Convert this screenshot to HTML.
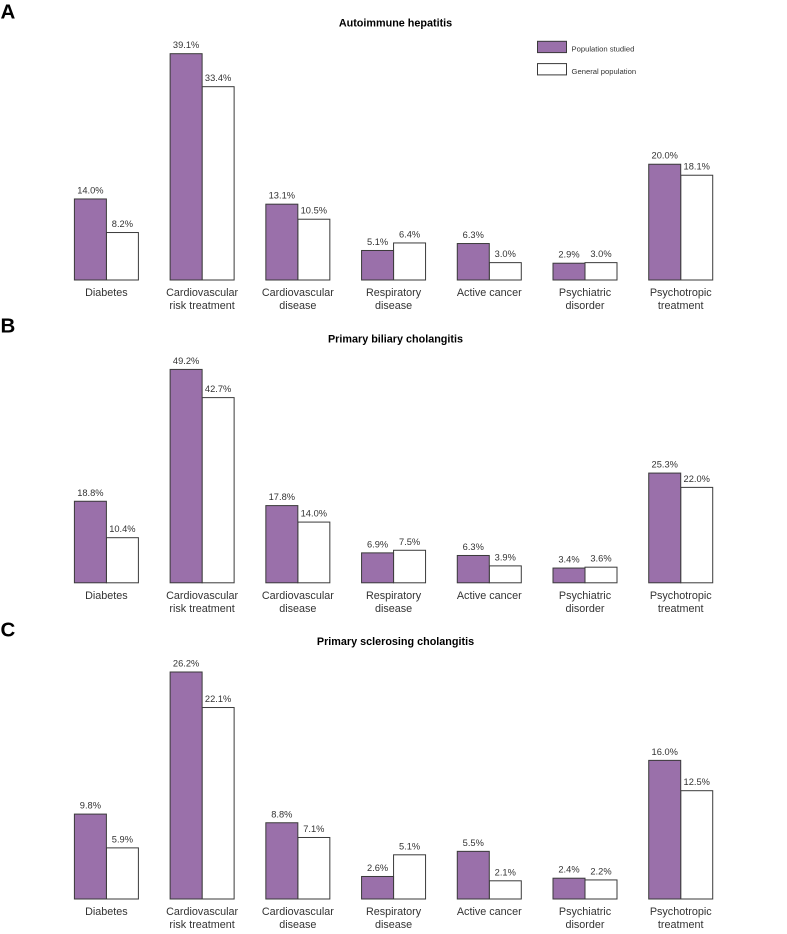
<!DOCTYPE html>
<html lang="en">
<head>
<meta charset="utf-8">
<title>Comorbidities by liver disease</title>
<style>
html,body{margin:0;padding:0;background:#fff}
svg{display:block;font-family:"Liberation Sans",Arial,sans-serif}
</style>
</head>
<body>
<svg id="chart" xmlns="http://www.w3.org/2000/svg" width="787" height="934" viewBox="0 0 787 934"></svg>
<script>
const categories = [
  ['Diabetes'],
  ['Cardiovascular', 'risk treatment'],
  ['Cardiovascular', 'disease'],
  ['Respiratory', 'disease'],
  ['Active cancer'],
  ['Psychiatric', 'disorder'],
  ['Psychotropic', 'treatment']
];
const panelLetters = ['A', 'B', 'C'];
const panelTitles = ['Autoimmune hepatitis', 'Primary biliary cholangitis', 'Primary sclerosing cholangitis'];
const seriesNames = ['Population studied', 'General population'];

const studiedA = [14.0, 39.1, 13.1, 5.1, 6.3, 2.9, 20.0];
const generalA = [8.2, 33.4, 10.5, 6.4, 3.0, 3.0, 18.1];
const studiedB = [18.8, 49.2, 17.8, 6.9, 6.3, 3.4, 25.3];
const generalB = [10.4, 42.7, 14.0, 7.5, 3.9, 3.6, 22.0];
const studiedC = [9.8, 26.2, 8.8, 2.6, 5.5, 2.4, 16.0];
const generalC = [5.9, 22.1, 7.1, 5.1, 2.1, 2.2, 12.5];

const svg = document.getElementById('chart');
const NS = 'http://www.w3.org/2000/svg';
const PURPLE = '#9a70aa';
const STROKE = '#3a3a3a';
const TEXT = '#333333';

function make(tag, attrs, text) {
  const el = document.createElementNS(NS, tag);
  for (const k in attrs) el.setAttribute(k, attrs[k]);
  if (text !== undefined) el.textContent = text;
  svg.appendChild(el);
  return el;
}

function xBand(index) { return 74.4 + index * 95.72; }
const BAR_W = 32;

const panelLayouts = [
  { base: 280, pxPerUnit: 5.788, titleY: 26.3, letterY: 18.5 },
  { base: 582.8, pxPerUnit: 4.337, titleY: 342.3, letterY: 332.7 },
  { base: 899, pxPerUnit: 8.664, titleY: 645, letterY: 636.7 }
];
const panelStudied = [studiedA, studiedB, studiedC];
const panelGeneral = [generalA, generalB, generalC];

function drawBar(layout, value, x, fill, key, idx, panel) {
  const y = layout.base - value * layout.pxPerUnit;
  const r = make('rect', { x: x, y: y, width: BAR_W, height: value * layout.pxPerUnit, fill: fill, stroke: STROKE, 'stroke-width': 1 });
  
  
  const t = make('text', { x: x + BAR_W / 2, y: y - 5.5, 'text-anchor': 'middle', 'font-size': 9.3, fill: TEXT }, value.toFixed(1) + '%');
  
  
}

panelLayouts.forEach(function (layout, p) {
  const letter = panelLetters[p].toLowerCase();
  const pl = make('text', { x: 0.5, y: layout.letterY, 'font-size': 20.5, 'font-weight': 'bold', fill: '#000' }, panelLetters[p]);
  
  
  const ti = make('text', { x: 395.5, y: layout.titleY, 'text-anchor': 'middle', 'font-size': 10.8, 'font-weight': 'bold', fill: '#000' }, panelTitles[p]);
  
  

  categories.forEach(function (lines, i) {
    const x0 = xBand(i);
    drawBar(layout, panelGeneral[p][i], x0 + BAR_W, '#ffffff', 'general', i, letter);
    drawBar(layout, panelStudied[p][i], x0, PURPLE, 'studied', i, letter);
    lines.forEach(function (line, j) {
      const c = make('text', { x: x0 + BAR_W, y: layout.base + 16 + j * 13, 'text-anchor': 'middle', 'font-size': 10.8, fill: TEXT }, line);
      
      
    });
  });
});

[PURPLE, '#ffffff'].forEach(function (fill, i) {
  const y = 41.3 + i * 22.3;
  const sw = make('rect', { x: 537.5, y: y, width: 29, height: 11.3, fill: fill, stroke: STROKE, 'stroke-width': 1 });
  
  
  const lt = make('text', { x: 571.5, y: y + 10.3, 'font-size': 7.65, fill: TEXT }, seriesNames[i]);
  
  
});
</script>
</body>
</html>
